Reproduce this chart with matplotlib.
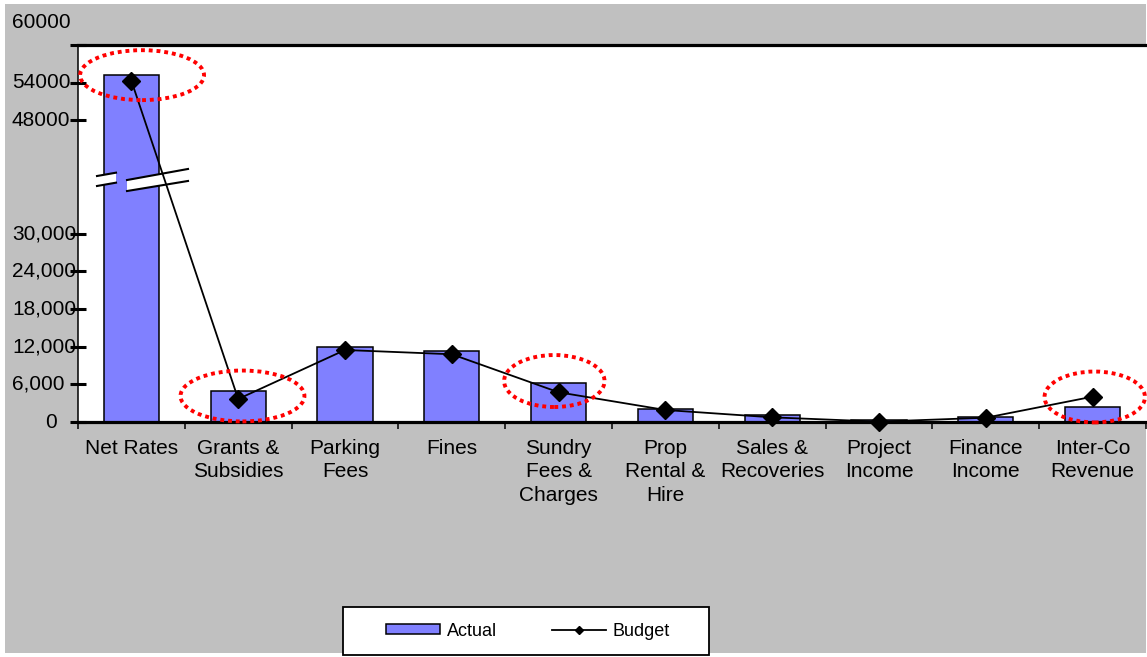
import matplotlib
matplotlib.use("Agg")
import matplotlib.pyplot as plt
from matplotlib.patches import Rectangle, Ellipse, Polygon
from matplotlib.lines import Line2D
import matplotlib.transforms as mtransforms

plt.rcParams['font.family'] = ['Liberation Sans', 'DejaVu Sans']

categories = ["Net Rates", "Grants &\nSubsidies", "Parking\nFees", "Fines",
              "Sundry\nFees &\nCharges", "Prop\nRental &\nHire", "Sales &\nRecoveries",
              "Project\nIncome", "Finance\nIncome", "Inter-Co\nRevenue"]
actual = [55200, 4930, 11980, 11300, 6250, 2120, 1160, 350, 840, 2430]
budget = [54300, 3660, 11460, 10780, 4730, 1910, 740, 60, 680, 4030]

ytick_values = [0, 6000, 12000, 18000, 24000, 30000, 48000, 54000]
ytick_labels = ["0", "6,000", "12,000", "18,000", "24,000", "30,000", "48000", "54000"]
top_label = "60000"

# highlighted categories (index, x-offset, y-centre, width, height)
highlights = [(0, 0.10, 55200, 1.16, 7950),
              (1, 0.04, 4140, 1.16, 8100),
              (4, -0.04, 6520, 0.94, 8270),
              (9, 0.02, 3980, 0.94, 8100)]

W, H = 1147, 657
fig = plt.figure(figsize=(W / 100, H / 100), dpi=100, facecolor='white')
fig.patches.append(Rectangle((5 / W, 4 / H), 1141 / W, 649 / H, transform=fig.transFigure,
                             facecolor='#c0c0c0', edgecolor='none', zorder=-10))

ax = fig.add_axes([78 / W, (H - 422) / H, (1146 - 78) / W, (422 - 45) / H])
ax.set_facecolor('white')
n = len(categories)
x = list(range(n))
ax.set_xlim(-0.5, n - 0.5)
ax.set_ylim(0, 60000)

bars = ax.bar(x, actual, width=0.515, color='#8080ff', edgecolor='black', linewidth=1.1,
              zorder=2, label='Actual')
line, = ax.plot(x, budget, color='black', linewidth=1.3, marker='D', markersize=9,
                zorder=5, label='Budget', clip_on=False)

# spines
ax.spines['right'].set_visible(False)
ax.spines['top'].set_linewidth(2.3)
ax.spines['bottom'].set_linewidth(2.3)
ax.spines['left'].set_linewidth(1.1)
ax.spines['bottom'].set_zorder(6)

# y ticks (marks only) and manual labels
ax.set_yticks(ytick_values + [60000])
ax.set_yticklabels([])
ax.tick_params(axis='y', direction='inout', length=11, width=2.2, colors='black')
trans_y = mtransforms.blended_transform_factory(fig.transFigure, ax.transData)
for v, lab in zip(ytick_values, ytick_labels):
    if lab == "0":
        ax.text(57 / W, v, lab, transform=trans_y, ha='right', va='center', fontsize=15)
    else:
        ax.text(12 / W, v, lab, transform=trans_y, ha='left', va='center', fontsize=15)
ax.text(12 / W, (H - 22) / H, top_label, transform=fig.transFigure, ha='left', va='center',
        fontsize=15)

# x ticks
ax.set_xticks(x)
ax.set_xticklabels(categories, fontsize=15, linespacing=1.3, va='top')
ax.tick_params(axis='x', which='major', length=0, pad=12)
ax.set_xticks([i - 0.5 for i in range(n + 1)], minor=True)
ax.tick_params(axis='x', which='minor', direction='out', length=5, width=1.1)

# axis break decoration on first bar
def band(x0, x1, yt0, yt1, yb0, yb1):
    ax.add_patch(Polygon([(x0, yt0), (x1, yt1), (x1, yb1), (x0, yb0)], closed=True,
                         facecolor='white', edgecolor='none', zorder=3, clip_on=False))
    ax.add_line(Line2D([x0, x1], [yt0, yt1], color='black', linewidth=1.5, zorder=4, clip_on=False))
    ax.add_line(Line2D([x0, x1], [yb0, yb1], color='black', linewidth=1.5, zorder=4, clip_on=False))

band(-0.322, -0.144, 39150, 39680, 37560, 38090)
band(-0.041, 0.530, 38510, 40270, 36760, 38360)

# red dotted ellipses
for idx, dx, yc, w, h in highlights:
    ax.add_patch(Ellipse((idx + dx, yc), w, h, fill=False, edgecolor='#ff0000', linewidth=2.8,
                         linestyle=(0, (1.0, 1.0)), zorder=7, clip_on=False))

# legend
fig.patches.append(Rectangle((343 / W, (H - 655) / H), 366 / W, 48 / H, transform=fig.transFigure,
                             facecolor='white', edgecolor='black', linewidth=1.3, zorder=1))
leg = fig.legend(handles=[bars, line], labels=['Actual', 'Budget'], loc='center',
                 bbox_to_anchor=(528 / W, (H - 631) / H), ncol=2, frameon=False, fontsize=13,
                 handlelength=3.0, handleheight=0.5, handletextpad=0.4, columnspacing=3.0,
                 markerscale=0.5)
leg.set_zorder(2)

fig.savefig('out.png', dpi=100, facecolor='white')
